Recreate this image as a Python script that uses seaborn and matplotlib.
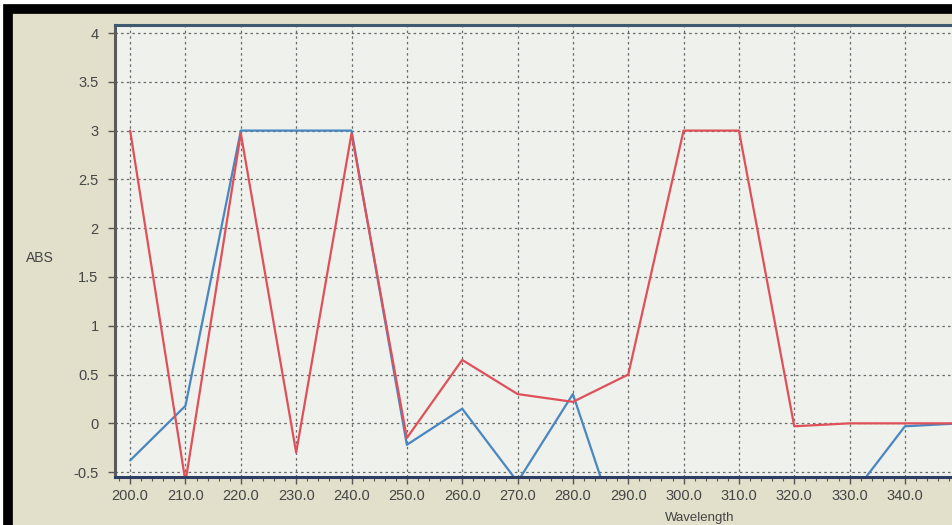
import numpy as np
import pandas as pd
import seaborn as sns
from matplotlib import pyplot as plt
from matplotlib.patches import Rectangle
from matplotlib.ticker import MultipleLocator, FormatStrFormatter

# readings off the instrument screen (values below -0.55 run off the plot)
wavelength = [200, 210, 220, 230, 240, 250, 260, 270, 280, 290, 300, 310, 320, 330, 340, 350]
abs_red = [3.0, -0.6, 2.97, -0.3, 2.97, -0.15, 0.65, 0.3, 0.22, 0.5, 3.0, 3.0, -0.03, 0.0, 0.0, 0.0]
abs_blue = [-0.38, 0.18, 3.0, 3.0, 3.0, -0.22, 0.15, -0.6, 0.3, -1.4, -1.0, -1.0, -1.0, -0.77, -0.03, 0.0]
y_ticks = [-0.5, 0, 0.5, 1, 1.5, 2, 2.5, 3, 3.5, 4]
y_labels = ["-0.5", "0", "0.5", "1", "1.5", "2", "2.5", "3", "3.5", "4"]

n = len(wavelength)
df = pd.DataFrame({"Wavelength": wavelength * 2,
                   "ABS": abs_blue + abs_red,
                   "scan": ["blue"] * n + ["red"] * n})

sns.set_style("white")
plt.rcParams["font.family"] = ["Liberation Sans", "DejaVu Sans"]

fig = plt.figure(figsize=(9.52, 5.25), dpi=100, facecolor="white")
# photo frame
fig.add_artist(Rectangle((0.0084, -0.2), 1.3, 1.183, transform=fig.transFigure,
                         facecolor="#e2dfca", edgecolor="black", lw=7, zorder=0))

ax = fig.add_axes([0.121, 0.0914, 0.879, 0.8606])
ax.set_facecolor("#eef1ec")

sns.lineplot(data=df, x="Wavelength", y="ABS", hue="scan",
             palette={"blue": "#4a86c0", "red": "#e0505a"},
             linewidth=1.6, legend=False, ax=ax)

ax.set_xlim(197.3, 348.5)
ax.set_ylim(-0.55, 4.08)
ax.set_xticks(np.arange(200, 350, 10))
ax.xaxis.set_major_formatter(FormatStrFormatter("%.1f"))
ax.xaxis.set_minor_locator(MultipleLocator(2))
ax.set_yticks(y_ticks)
ax.set_yticklabels(y_labels)

ax.grid(True, which="major", color="#6a6a6a", linestyle=(0, (2, 2.5)), linewidth=0.9)
ax.tick_params(axis="both", which="major", direction="out", length=5, width=1,
               color="#555555", labelsize=10.5, labelcolor="#454545")
ax.tick_params(axis="y", pad=7)
ax.tick_params(axis="x", which="minor", direction="out", length=3, width=0.8, color="#555555")
ax.tick_params(axis="x", which="both", bottom=True)
ax.tick_params(axis="y", left=True)

for side in ["left", "top", "bottom"]:
    ax.spines[side].set_linewidth(2.2)
ax.spines["left"].set_color("#5a5a5a")
ax.spines["top"].set_color("#3d5a6e")
ax.spines["bottom"].set_color("#2e3f66")
ax.spines["right"].set_visible(False)

ax.set_ylabel("ABS", rotation=0, fontsize=10, color="#444444")
ax.yaxis.set_label_coords(-0.09, 0.47)
ax.set_xlabel("Wavelength", fontsize=9.5, color="#444444")
ax.xaxis.set_label_coords(0.699, -0.078)

plt.savefig("out.png", dpi=100, facecolor=fig.get_facecolor())
